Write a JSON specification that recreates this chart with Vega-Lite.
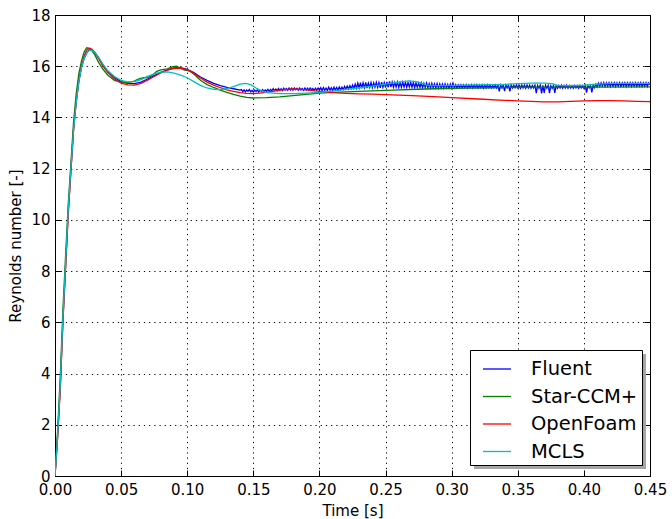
{
"$schema": "https://vega.github.io/schema/vega-lite/v6.json",
"width": 595, "height": 461,
"autosize": {"type": "none"},
"padding": {"left": 55, "top": 15, "right": 22, "bottom": 43},
"background": "white",
"config": {
  "font": "DejaVu Sans",
  "view": {"stroke": "black", "strokeWidth": 1},
  "axis": {"labelFont": "DejaVu Sans", "titleFont": "DejaVu Sans", "labelFontSize": 15, "titleFontSize": 15, "titleFontWeight": "normal", "labelColor": "black", "titleColor": "black", "domainColor": "black", "tickColor": "black", "domainWidth": 1, "tickWidth": 1}
},
"data": {"values": [
{"s":"Fluent","t":0,"v":0},{"s":"Fluent","t":0.002,"v":1.6},{"s":"Fluent","t":0.004,"v":3.5},{"s":"Fluent","t":0.006,"v":6.1},{"s":"Fluent","t":0.008,"v":8.2},{"s":"Fluent","t":0.010,"v":10.3},{"s":"Fluent","t":0.012,"v":11.9},{"s":"Fluent","t":0.014,"v":13.5},{"s":"Fluent","t":0.016,"v":14.6},{"s":"Fluent","t":0.018,"v":15.4},{"s":"Fluent","t":0.020,"v":15.95},{"s":"Fluent","t":0.022,"v":16.3},{"s":"Fluent","t":0.024,"v":16.52},{"s":"Fluent","t":0.026,"v":16.64},{"s":"Fluent","t":0.028,"v":16.64},{"s":"Fluent","t":0.030,"v":16.55},{"s":"Fluent","t":0.033,"v":16.33},{"s":"Fluent","t":0.036,"v":16.06},{"s":"Fluent","t":0.040,"v":15.78},{"s":"Fluent","t":0.045,"v":15.55},{"s":"Fluent","t":0.050,"v":15.4},{"s":"Fluent","t":0.055,"v":15.33},{"s":"Fluent","t":0.060,"v":15.32},{"s":"Fluent","t":0.065,"v":15.38},{"s":"Fluent","t":0.070,"v":15.5},{"s":"Fluent","t":0.075,"v":15.63},{"s":"Fluent","t":0.080,"v":15.76},{"s":"Fluent","t":0.085,"v":15.86},{"s":"Fluent","t":0.090,"v":15.93},{"s":"Fluent","t":0.095,"v":15.94},{"s":"Fluent","t":0.100,"v":15.88},{"s":"Fluent","t":0.105,"v":15.75},{"s":"Fluent","t":0.110,"v":15.58},{"s":"Fluent","t":0.115,"v":15.45},{"s":"Fluent","t":0.120,"v":15.33},{"s":"Fluent","t":0.125,"v":15.24},{"s":"Fluent","t":0.130,"v":15.17},{"s":"Fluent","t":0.135,"v":15.12},{"s":"Fluent","t":0.140,"v":15.07},
{"s":"Fluent","t":0.141,"v":15.09},{"s":"Fluent","t":0.142,"v":15.01},{"s":"Fluent","t":0.143,"v":15.08},{"s":"Fluent","t":0.144,"v":15.00},{"s":"Fluent","t":0.145,"v":15.07},{"s":"Fluent","t":0.146,"v":15.02},{"s":"Fluent","t":0.147,"v":15.09},{"s":"Fluent","t":0.148,"v":15.00},{"s":"Fluent","t":0.149,"v":15.06},{"s":"Fluent","t":0.150,"v":14.99},
{"s":"Fluent","t":0.151,"v":15.07},{"s":"Fluent","t":0.152,"v":15.01},{"s":"Fluent","t":0.153,"v":15.08},{"s":"Fluent","t":0.154,"v":15.00},{"s":"Fluent","t":0.155,"v":15.06},{"s":"Fluent","t":0.156,"v":15.02},{"s":"Fluent","t":0.157,"v":15.09},{"s":"Fluent","t":0.158,"v":15.01},{"s":"Fluent","t":0.159,"v":15.07},{"s":"Fluent","t":0.160,"v":15.02},
{"s":"Fluent","t":0.161,"v":15.10},{"s":"Fluent","t":0.162,"v":15.03},{"s":"Fluent","t":0.163,"v":15.09},{"s":"Fluent","t":0.164,"v":15.04},{"s":"Fluent","t":0.165,"v":15.12},{"s":"Fluent","t":0.166,"v":15.05},{"s":"Fluent","t":0.167,"v":15.11},{"s":"Fluent","t":0.168,"v":15.04},{"s":"Fluent","t":0.169,"v":15.13},{"s":"Fluent","t":0.170,"v":15.06},
{"s":"Fluent","t":0.171,"v":15.12},{"s":"Fluent","t":0.172,"v":15.05},{"s":"Fluent","t":0.173,"v":15.14},{"s":"Fluent","t":0.174,"v":15.07},{"s":"Fluent","t":0.175,"v":15.13},{"s":"Fluent","t":0.176,"v":15.06},{"s":"Fluent","t":0.177,"v":15.15},{"s":"Fluent","t":0.178,"v":15.07},{"s":"Fluent","t":0.179,"v":15.14},{"s":"Fluent","t":0.180,"v":15.06},
{"s":"Fluent","t":0.181,"v":15.15},{"s":"Fluent","t":0.182,"v":15.08},{"s":"Fluent","t":0.183,"v":15.14},{"s":"Fluent","t":0.184,"v":15.06},{"s":"Fluent","t":0.185,"v":15.15},{"s":"Fluent","t":0.186,"v":15.07},{"s":"Fluent","t":0.187,"v":15.13},{"s":"Fluent","t":0.188,"v":15.06},{"s":"Fluent","t":0.189,"v":15.15},{"s":"Fluent","t":0.190,"v":15.07},
{"s":"Fluent","t":0.191,"v":15.14},{"s":"Fluent","t":0.192,"v":15.06},{"s":"Fluent","t":0.193,"v":15.15},{"s":"Fluent","t":0.194,"v":15.08},{"s":"Fluent","t":0.195,"v":15.13},{"s":"Fluent","t":0.196,"v":15.06},{"s":"Fluent","t":0.197,"v":15.14},{"s":"Fluent","t":0.198,"v":15.07},{"s":"Fluent","t":0.199,"v":15.15},{"s":"Fluent","t":0.200,"v":15.06},
{"s":"Fluent","t":0.201,"v":15.16},{"s":"Fluent","t":0.202,"v":15.05},{"s":"Fluent","t":0.203,"v":15.17},{"s":"Fluent","t":0.204,"v":15.06},{"s":"Fluent","t":0.205,"v":15.15},{"s":"Fluent","t":0.206,"v":15.05},{"s":"Fluent","t":0.207,"v":15.18},{"s":"Fluent","t":0.208,"v":15.06},{"s":"Fluent","t":0.209,"v":15.16},{"s":"Fluent","t":0.210,"v":15.05},
{"s":"Fluent","t":0.211,"v":15.18},{"s":"Fluent","t":0.212,"v":15.07},{"s":"Fluent","t":0.213,"v":15.17},{"s":"Fluent","t":0.214,"v":15.06},{"s":"Fluent","t":0.215,"v":15.19},{"s":"Fluent","t":0.216,"v":15.08},{"s":"Fluent","t":0.217,"v":15.18},{"s":"Fluent","t":0.218,"v":15.09},{"s":"Fluent","t":0.219,"v":15.21},{"s":"Fluent","t":0.220,"v":15.10},
{"s":"Fluent","t":0.221,"v":15.22},{"s":"Fluent","t":0.222,"v":15.11},{"s":"Fluent","t":0.223,"v":15.24},{"s":"Fluent","t":0.224,"v":15.12},{"s":"Fluent","t":0.225,"v":15.26},{"s":"Fluent","t":0.226,"v":15.13},{"s":"Fluent","t":0.227,"v":15.30},{"s":"Fluent","t":0.228,"v":15.14},{"s":"Fluent","t":0.229,"v":15.34},{"s":"Fluent","t":0.230,"v":15.15},
{"s":"Fluent","t":0.231,"v":15.36},{"s":"Fluent","t":0.232,"v":15.14},{"s":"Fluent","t":0.233,"v":15.35},{"s":"Fluent","t":0.234,"v":15.16},{"s":"Fluent","t":0.235,"v":15.37},{"s":"Fluent","t":0.236,"v":15.15},{"s":"Fluent","t":0.237,"v":15.34},{"s":"Fluent","t":0.238,"v":15.17},{"s":"Fluent","t":0.239,"v":15.36},{"s":"Fluent","t":0.240,"v":15.16},
{"s":"Fluent","t":0.241,"v":15.35},{"s":"Fluent","t":0.242,"v":15.18},{"s":"Fluent","t":0.243,"v":15.37},{"s":"Fluent","t":0.244,"v":15.17},{"s":"Fluent","t":0.245,"v":15.36},{"s":"Fluent","t":0.246,"v":15.16},{"s":"Fluent","t":0.247,"v":15.38},{"s":"Fluent","t":0.248,"v":15.18},{"s":"Fluent","t":0.249,"v":15.36},{"s":"Fluent","t":0.250,"v":15.17},
{"s":"Fluent","t":0.251,"v":15.39},{"s":"Fluent","t":0.252,"v":15.18},{"s":"Fluent","t":0.253,"v":15.41},{"s":"Fluent","t":0.254,"v":15.19},{"s":"Fluent","t":0.255,"v":15.38},{"s":"Fluent","t":0.256,"v":15.18},{"s":"Fluent","t":0.257,"v":15.37},{"s":"Fluent","t":0.258,"v":15.19},{"s":"Fluent","t":0.259,"v":15.38},{"s":"Fluent","t":0.260,"v":15.17},
{"s":"Fluent","t":0.261,"v":15.36},{"s":"Fluent","t":0.262,"v":15.18},{"s":"Fluent","t":0.263,"v":15.38},{"s":"Fluent","t":0.264,"v":15.19},{"s":"Fluent","t":0.265,"v":15.37},{"s":"Fluent","t":0.266,"v":15.18},{"s":"Fluent","t":0.267,"v":15.36},{"s":"Fluent","t":0.268,"v":15.19},{"s":"Fluent","t":0.269,"v":15.37},{"s":"Fluent","t":0.270,"v":15.18},
{"s":"Fluent","t":0.271,"v":15.36},{"s":"Fluent","t":0.272,"v":15.17},{"s":"Fluent","t":0.273,"v":15.35},{"s":"Fluent","t":0.274,"v":15.18},{"s":"Fluent","t":0.275,"v":15.34},{"s":"Fluent","t":0.276,"v":15.17},{"s":"Fluent","t":0.277,"v":15.35},{"s":"Fluent","t":0.278,"v":15.16},{"s":"Fluent","t":0.279,"v":15.33},{"s":"Fluent","t":0.280,"v":15.17},
{"s":"Fluent","t":0.281,"v":15.34},{"s":"Fluent","t":0.282,"v":15.16},{"s":"Fluent","t":0.283,"v":15.32},{"s":"Fluent","t":0.284,"v":15.15},{"s":"Fluent","t":0.285,"v":15.33},{"s":"Fluent","t":0.286,"v":15.16},{"s":"Fluent","t":0.287,"v":15.31},{"s":"Fluent","t":0.288,"v":15.15},{"s":"Fluent","t":0.289,"v":15.32},{"s":"Fluent","t":0.290,"v":15.14},
{"s":"Fluent","t":0.291,"v":15.31},{"s":"Fluent","t":0.292,"v":15.15},{"s":"Fluent","t":0.293,"v":15.30},{"s":"Fluent","t":0.294,"v":15.14},{"s":"Fluent","t":0.295,"v":15.31},{"s":"Fluent","t":0.296,"v":15.15},{"s":"Fluent","t":0.297,"v":15.29},{"s":"Fluent","t":0.298,"v":15.14},{"s":"Fluent","t":0.299,"v":15.30},{"s":"Fluent","t":0.300,"v":15.15},
{"s":"Fluent","t":0.301,"v":15.34},{"s":"Fluent","t":0.302,"v":15.16},{"s":"Fluent","t":0.303,"v":15.28},{"s":"Fluent","t":0.304,"v":15.15},{"s":"Fluent","t":0.305,"v":15.27},{"s":"Fluent","t":0.306,"v":15.16},{"s":"Fluent","t":0.307,"v":15.28},{"s":"Fluent","t":0.308,"v":15.15},{"s":"Fluent","t":0.309,"v":15.27},{"s":"Fluent","t":0.310,"v":15.16},
{"s":"Fluent","t":0.311,"v":15.28},{"s":"Fluent","t":0.312,"v":15.15},{"s":"Fluent","t":0.313,"v":15.27},{"s":"Fluent","t":0.314,"v":15.16},{"s":"Fluent","t":0.315,"v":15.28},{"s":"Fluent","t":0.316,"v":15.15},{"s":"Fluent","t":0.317,"v":15.27},{"s":"Fluent","t":0.318,"v":15.16},{"s":"Fluent","t":0.319,"v":15.28},{"s":"Fluent","t":0.320,"v":15.15},
{"s":"Fluent","t":0.321,"v":15.27},{"s":"Fluent","t":0.322,"v":15.16},{"s":"Fluent","t":0.323,"v":15.28},{"s":"Fluent","t":0.324,"v":15.14},{"s":"Fluent","t":0.325,"v":15.27},{"s":"Fluent","t":0.326,"v":15.15},{"s":"Fluent","t":0.327,"v":15.28},{"s":"Fluent","t":0.328,"v":15.16},{"s":"Fluent","t":0.329,"v":15.27},{"s":"Fluent","t":0.330,"v":15.15},
{"s":"Fluent","t":0.331,"v":15.26},{"s":"Fluent","t":0.332,"v":15.16},{"s":"Fluent","t":0.333,"v":15.27},{"s":"Fluent","t":0.334,"v":15.15},{"s":"Fluent","t":0.335,"v":15.26},{"s":"Fluent","t":0.336,"v":15.02},{"s":"Fluent","t":0.337,"v":15.27},{"s":"Fluent","t":0.338,"v":15.15},{"s":"Fluent","t":0.339,"v":15.26},{"s":"Fluent","t":0.340,"v":15.03},
{"s":"Fluent","t":0.341,"v":15.27},{"s":"Fluent","t":0.342,"v":15.16},{"s":"Fluent","t":0.343,"v":15.26},{"s":"Fluent","t":0.344,"v":15.02},{"s":"Fluent","t":0.345,"v":15.27},{"s":"Fluent","t":0.346,"v":15.15},{"s":"Fluent","t":0.347,"v":15.26},{"s":"Fluent","t":0.348,"v":15.16},{"s":"Fluent","t":0.349,"v":15.27},{"s":"Fluent","t":0.350,"v":15.15},
{"s":"Fluent","t":0.351,"v":15.26},{"s":"Fluent","t":0.352,"v":15.14},{"s":"Fluent","t":0.353,"v":15.27},{"s":"Fluent","t":0.354,"v":15.15},{"s":"Fluent","t":0.355,"v":15.26},{"s":"Fluent","t":0.356,"v":15.14},{"s":"Fluent","t":0.357,"v":15.27},{"s":"Fluent","t":0.358,"v":15.15},{"s":"Fluent","t":0.359,"v":15.26},{"s":"Fluent","t":0.360,"v":15.14},
{"s":"Fluent","t":0.361,"v":15.25},{"s":"Fluent","t":0.362,"v":15.15},{"s":"Fluent","t":0.363,"v":15.26},{"s":"Fluent","t":0.364,"v":14.95},{"s":"Fluent","t":0.365,"v":15.25},{"s":"Fluent","t":0.366,"v":15.14},{"s":"Fluent","t":0.367,"v":15.26},{"s":"Fluent","t":0.368,"v":14.94},{"s":"Fluent","t":0.369,"v":15.25},{"s":"Fluent","t":0.370,"v":14.96},
{"s":"Fluent","t":0.371,"v":15.26},{"s":"Fluent","t":0.372,"v":15.14},{"s":"Fluent","t":0.373,"v":15.25},{"s":"Fluent","t":0.374,"v":14.95},{"s":"Fluent","t":0.375,"v":15.24},{"s":"Fluent","t":0.376,"v":15.14},{"s":"Fluent","t":0.377,"v":15.25},{"s":"Fluent","t":0.378,"v":14.96},{"s":"Fluent","t":0.379,"v":15.24},{"s":"Fluent","t":0.380,"v":15.14},
{"s":"Fluent","t":0.381,"v":15.25},{"s":"Fluent","t":0.382,"v":15.15},{"s":"Fluent","t":0.383,"v":15.26},{"s":"Fluent","t":0.384,"v":15.14},{"s":"Fluent","t":0.385,"v":15.25},{"s":"Fluent","t":0.386,"v":15.15},{"s":"Fluent","t":0.387,"v":15.26},{"s":"Fluent","t":0.388,"v":15.14},{"s":"Fluent","t":0.389,"v":15.25},{"s":"Fluent","t":0.390,"v":15.15},
{"s":"Fluent","t":0.391,"v":15.24},{"s":"Fluent","t":0.392,"v":15.14},{"s":"Fluent","t":0.393,"v":15.25},{"s":"Fluent","t":0.394,"v":15.15},{"s":"Fluent","t":0.395,"v":15.24},{"s":"Fluent","t":0.396,"v":15.14},{"s":"Fluent","t":0.397,"v":15.25},{"s":"Fluent","t":0.398,"v":15.15},{"s":"Fluent","t":0.399,"v":15.24},{"s":"Fluent","t":0.400,"v":15.14},
{"s":"Fluent","t":0.401,"v":15.25},{"s":"Fluent","t":0.402,"v":14.97},{"s":"Fluent","t":0.403,"v":15.24},{"s":"Fluent","t":0.404,"v":15.15},{"s":"Fluent","t":0.405,"v":15.25},{"s":"Fluent","t":0.406,"v":14.98},{"s":"Fluent","t":0.407,"v":15.26},{"s":"Fluent","t":0.408,"v":15.16},{"s":"Fluent","t":0.409,"v":15.30},{"s":"Fluent","t":0.410,"v":15.19},
{"s":"Fluent","t":0.411,"v":15.34},{"s":"Fluent","t":0.412,"v":15.21},{"s":"Fluent","t":0.413,"v":15.35},{"s":"Fluent","t":0.414,"v":15.22},{"s":"Fluent","t":0.415,"v":15.36},{"s":"Fluent","t":0.416,"v":15.21},{"s":"Fluent","t":0.417,"v":15.35},{"s":"Fluent","t":0.418,"v":15.22},{"s":"Fluent","t":0.419,"v":15.36},{"s":"Fluent","t":0.420,"v":15.21},
{"s":"Fluent","t":0.421,"v":15.35},{"s":"Fluent","t":0.422,"v":15.22},{"s":"Fluent","t":0.423,"v":15.36},{"s":"Fluent","t":0.424,"v":15.21},{"s":"Fluent","t":0.425,"v":15.35},{"s":"Fluent","t":0.426,"v":15.22},{"s":"Fluent","t":0.427,"v":15.36},{"s":"Fluent","t":0.428,"v":15.21},{"s":"Fluent","t":0.429,"v":15.35},{"s":"Fluent","t":0.430,"v":15.22},
{"s":"Fluent","t":0.431,"v":15.36},{"s":"Fluent","t":0.432,"v":15.21},{"s":"Fluent","t":0.433,"v":15.35},{"s":"Fluent","t":0.434,"v":15.22},{"s":"Fluent","t":0.435,"v":15.36},{"s":"Fluent","t":0.436,"v":15.21},{"s":"Fluent","t":0.437,"v":15.35},{"s":"Fluent","t":0.438,"v":15.22},{"s":"Fluent","t":0.439,"v":15.36},{"s":"Fluent","t":0.440,"v":15.21},
{"s":"Fluent","t":0.441,"v":15.35},{"s":"Fluent","t":0.442,"v":15.22},{"s":"Fluent","t":0.443,"v":15.36},{"s":"Fluent","t":0.444,"v":15.21},{"s":"Fluent","t":0.445,"v":15.35},{"s":"Fluent","t":0.446,"v":15.22},{"s":"Fluent","t":0.447,"v":15.36},{"s":"Fluent","t":0.448,"v":15.21},{"s":"Fluent","t":0.449,"v":15.35},{"s":"Fluent","t":0.450,"v":15.28},
{"s":"Star-CCM+","t":0,"v":0},{"s":"Star-CCM+","t":0.002,"v":1.8},{"s":"Star-CCM+","t":0.004,"v":3.9},{"s":"Star-CCM+","t":0.006,"v":6.5},{"s":"Star-CCM+","t":0.008,"v":8.6},{"s":"Star-CCM+","t":0.010,"v":10.6},{"s":"Star-CCM+","t":0.012,"v":12.2},{"s":"Star-CCM+","t":0.014,"v":13.8},{"s":"Star-CCM+","t":0.016,"v":14.9},{"s":"Star-CCM+","t":0.018,"v":15.7},{"s":"Star-CCM+","t":0.020,"v":16.2},{"s":"Star-CCM+","t":0.022,"v":16.55},{"s":"Star-CCM+","t":0.024,"v":16.72},{"s":"Star-CCM+","t":0.026,"v":16.7},{"s":"Star-CCM+","t":0.028,"v":16.6},{"s":"Star-CCM+","t":0.030,"v":16.45},{"s":"Star-CCM+","t":0.033,"v":16.15},{"s":"Star-CCM+","t":0.036,"v":15.9},{"s":"Star-CCM+","t":0.040,"v":15.65},{"s":"Star-CCM+","t":0.045,"v":15.45},{"s":"Star-CCM+","t":0.050,"v":15.38},{"s":"Star-CCM+","t":0.055,"v":15.36},{"s":"Star-CCM+","t":0.060,"v":15.42},{"s":"Star-CCM+","t":0.063,"v":15.5},{"s":"Star-CCM+","t":0.067,"v":15.55},{"s":"Star-CCM+","t":0.070,"v":15.56},{"s":"Star-CCM+","t":0.073,"v":15.62},{"s":"Star-CCM+","t":0.077,"v":15.8},{"s":"Star-CCM+","t":0.080,"v":15.86},{"s":"Star-CCM+","t":0.085,"v":15.9},{"s":"Star-CCM+","t":0.089,"v":15.98},{"s":"Star-CCM+","t":0.092,"v":16.0},{"s":"Star-CCM+","t":0.095,"v":15.92},{"s":"Star-CCM+","t":0.098,"v":15.85},{"s":"Star-CCM+","t":0.102,"v":15.82},{"s":"Star-CCM+","t":0.106,"v":15.65},{"s":"Star-CCM+","t":0.110,"v":15.45},{"s":"Star-CCM+","t":0.115,"v":15.28},{"s":"Star-CCM+","t":0.120,"v":15.17},{"s":"Star-CCM+","t":0.125,"v":15.07},{"s":"Star-CCM+","t":0.130,"v":14.98},{"s":"Star-CCM+","t":0.135,"v":14.9},{"s":"Star-CCM+","t":0.140,"v":14.83},{"s":"Star-CCM+","t":0.145,"v":14.78},{"s":"Star-CCM+","t":0.150,"v":14.76},{"s":"Star-CCM+","t":0.160,"v":14.77},{"s":"Star-CCM+","t":0.170,"v":14.8},{"s":"Star-CCM+","t":0.180,"v":14.85},{"s":"Star-CCM+","t":0.190,"v":14.9},{"s":"Star-CCM+","t":0.200,"v":14.95},{"s":"Star-CCM+","t":0.220,"v":15.0},{"s":"Star-CCM+","t":0.250,"v":15.06},{"s":"Star-CCM+","t":0.280,"v":15.11},{"s":"Star-CCM+","t":0.300,"v":15.14},{"s":"Star-CCM+","t":0.330,"v":15.16},{"s":"Star-CCM+","t":0.350,"v":15.18},{"s":"Star-CCM+","t":0.400,"v":15.18},{"s":"Star-CCM+","t":0.450,"v":15.19},
{"s":"OpenFoam","t":0,"v":0},{"s":"OpenFoam","t":0.002,"v":1.5},{"s":"OpenFoam","t":0.004,"v":3.4},{"s":"OpenFoam","t":0.006,"v":6.0},{"s":"OpenFoam","t":0.008,"v":8.1},{"s":"OpenFoam","t":0.010,"v":10.2},{"s":"OpenFoam","t":0.012,"v":11.9},{"s":"OpenFoam","t":0.014,"v":13.5},{"s":"OpenFoam","t":0.016,"v":14.6},{"s":"OpenFoam","t":0.018,"v":15.45},{"s":"OpenFoam","t":0.020,"v":16.0},{"s":"OpenFoam","t":0.022,"v":16.4},{"s":"OpenFoam","t":0.024,"v":16.63},{"s":"OpenFoam","t":0.026,"v":16.7},{"s":"OpenFoam","t":0.028,"v":16.66},{"s":"OpenFoam","t":0.030,"v":16.54},{"s":"OpenFoam","t":0.033,"v":16.3},{"s":"OpenFoam","t":0.036,"v":16.02},{"s":"OpenFoam","t":0.040,"v":15.75},{"s":"OpenFoam","t":0.045,"v":15.5},{"s":"OpenFoam","t":0.050,"v":15.34},{"s":"OpenFoam","t":0.055,"v":15.27},{"s":"OpenFoam","t":0.060,"v":15.26},{"s":"OpenFoam","t":0.065,"v":15.33},{"s":"OpenFoam","t":0.070,"v":15.46},{"s":"OpenFoam","t":0.075,"v":15.6},{"s":"OpenFoam","t":0.080,"v":15.74},{"s":"OpenFoam","t":0.085,"v":15.85},{"s":"OpenFoam","t":0.090,"v":15.92},{"s":"OpenFoam","t":0.095,"v":15.93},{"s":"OpenFoam","t":0.100,"v":15.86},{"s":"OpenFoam","t":0.105,"v":15.72},{"s":"OpenFoam","t":0.110,"v":15.54},{"s":"OpenFoam","t":0.115,"v":15.38},{"s":"OpenFoam","t":0.120,"v":15.26},{"s":"OpenFoam","t":0.125,"v":15.16},{"s":"OpenFoam","t":0.130,"v":15.08},{"s":"OpenFoam","t":0.135,"v":15.02},{"s":"OpenFoam","t":0.140,"v":14.97},{"s":"OpenFoam","t":0.145,"v":14.94},{"s":"OpenFoam","t":0.150,"v":14.93},{"s":"OpenFoam","t":0.160,"v":14.98},{"s":"OpenFoam","t":0.170,"v":15.07},{"s":"OpenFoam","t":0.180,"v":15.11},{"s":"OpenFoam","t":0.190,"v":15.08},{"s":"OpenFoam","t":0.200,"v":15.02},{"s":"OpenFoam","t":0.210,"v":14.97},{"s":"OpenFoam","t":0.220,"v":14.94},{"s":"OpenFoam","t":0.230,"v":14.92},{"s":"OpenFoam","t":0.240,"v":14.91},{"s":"OpenFoam","t":0.250,"v":14.89},{"s":"OpenFoam","t":0.270,"v":14.85},{"s":"OpenFoam","t":0.290,"v":14.8},{"s":"OpenFoam","t":0.300,"v":14.77},{"s":"OpenFoam","t":0.320,"v":14.72},{"s":"OpenFoam","t":0.340,"v":14.67},{"s":"OpenFoam","t":0.350,"v":14.65},{"s":"OpenFoam","t":0.360,"v":14.63},{"s":"OpenFoam","t":0.370,"v":14.61},{"s":"OpenFoam","t":0.380,"v":14.61},{"s":"OpenFoam","t":0.390,"v":14.63},{"s":"OpenFoam","t":0.400,"v":14.65},{"s":"OpenFoam","t":0.410,"v":14.66},{"s":"OpenFoam","t":0.420,"v":14.66},{"s":"OpenFoam","t":0.430,"v":14.65},{"s":"OpenFoam","t":0.440,"v":14.63},{"s":"OpenFoam","t":0.450,"v":14.62},
{"s":"MCLS","t":0,"v":0},{"s":"MCLS","t":0.002,"v":1.6},{"s":"MCLS","t":0.004,"v":3.6},{"s":"MCLS","t":0.006,"v":6.2},{"s":"MCLS","t":0.008,"v":8.3},{"s":"MCLS","t":0.010,"v":10.4},{"s":"MCLS","t":0.012,"v":12.0},{"s":"MCLS","t":0.014,"v":13.5},{"s":"MCLS","t":0.016,"v":14.6},{"s":"MCLS","t":0.018,"v":15.4},{"s":"MCLS","t":0.020,"v":15.95},{"s":"MCLS","t":0.022,"v":16.3},{"s":"MCLS","t":0.024,"v":16.52},{"s":"MCLS","t":0.026,"v":16.62},{"s":"MCLS","t":0.028,"v":16.62},{"s":"MCLS","t":0.030,"v":16.55},{"s":"MCLS","t":0.033,"v":16.35},{"s":"MCLS","t":0.036,"v":16.1},{"s":"MCLS","t":0.040,"v":15.82},{"s":"MCLS","t":0.045,"v":15.6},{"s":"MCLS","t":0.050,"v":15.45},{"s":"MCLS","t":0.055,"v":15.39},{"s":"MCLS","t":0.060,"v":15.4},{"s":"MCLS","t":0.065,"v":15.48},{"s":"MCLS","t":0.070,"v":15.6},{"s":"MCLS","t":0.075,"v":15.7},{"s":"MCLS","t":0.080,"v":15.77},{"s":"MCLS","t":0.085,"v":15.78},{"s":"MCLS","t":0.090,"v":15.73},{"s":"MCLS","t":0.095,"v":15.65},{"s":"MCLS","t":0.100,"v":15.55},{"s":"MCLS","t":0.105,"v":15.4},{"s":"MCLS","t":0.110,"v":15.25},{"s":"MCLS","t":0.115,"v":15.15},{"s":"MCLS","t":0.120,"v":15.1},{"s":"MCLS","t":0.125,"v":15.09},{"s":"MCLS","t":0.130,"v":15.13},{"s":"MCLS","t":0.135,"v":15.2},{"s":"MCLS","t":0.140,"v":15.3},{"s":"MCLS","t":0.144,"v":15.33},{"s":"MCLS","t":0.148,"v":15.28},{"s":"MCLS","t":0.152,"v":15.15},{"s":"MCLS","t":0.156,"v":15.05},{"s":"MCLS","t":0.160,"v":14.97},{"s":"MCLS","t":0.170,"v":14.93},{"s":"MCLS","t":0.180,"v":14.93},{"s":"MCLS","t":0.190,"v":14.95},{"s":"MCLS","t":0.200,"v":14.98},{"s":"MCLS","t":0.210,"v":15.03},{"s":"MCLS","t":0.220,"v":15.1},{"s":"MCLS","t":0.230,"v":15.16},{"s":"MCLS","t":0.240,"v":15.22},{"s":"MCLS","t":0.250,"v":15.3},{"s":"MCLS","t":0.260,"v":15.38},{"s":"MCLS","t":0.268,"v":15.43},{"s":"MCLS","t":0.275,"v":15.38},{"s":"MCLS","t":0.281,"v":15.26},{"s":"MCLS","t":0.290,"v":15.24},{"s":"MCLS","t":0.300,"v":15.25},{"s":"MCLS","t":0.320,"v":15.27},{"s":"MCLS","t":0.340,"v":15.29},{"s":"MCLS","t":0.350,"v":15.32},{"s":"MCLS","t":0.360,"v":15.34},{"s":"MCLS","t":0.370,"v":15.34},{"s":"MCLS","t":0.376,"v":15.32},{"s":"MCLS","t":0.380,"v":15.25},{"s":"MCLS","t":0.390,"v":15.24},{"s":"MCLS","t":0.400,"v":15.26},{"s":"MCLS","t":0.410,"v":15.3},{"s":"MCLS","t":0.420,"v":15.33},{"s":"MCLS","t":0.430,"v":15.33},{"s":"MCLS","t":0.450,"v":15.33}
]},
"layer": [
  {
    "mark": {"type": "line", "strokeWidth": 1.3, "clip": true},
    "encoding": {
      "x": {"field": "t", "type": "quantitative", "scale": {"domain": [0, 0.45], "nice": false, "zero": false},
        "axis": {"orient": "bottom", "values": [0, 0.05, 0.1, 0.15, 0.2, 0.25, 0.3, 0.35, 0.4, 0.45], "format": ".2f", "title": "Time [s]", "grid": true, "gridColor": "black", "gridOpacity": 1, "gridWidth": 1, "gridDash": [1.2, 4], "tickSize": -6, "labelPadding": 12, "titlePadding": 6, "labelFlush": false, "labelOverlap": false}},
      "y": {"field": "v", "type": "quantitative", "scale": {"domain": [0, 18], "nice": false},
        "axis": {"orient": "left", "values": [0, 2, 4, 6, 8, 10, 12, 14, 16, 18], "format": "d", "title": "Reynolds number [-]", "grid": true, "gridColor": "black", "gridOpacity": 1, "gridWidth": 1, "gridDash": [1.2, 4], "tickSize": -6, "labelPadding": 11, "titlePadding": 7, "labelFlush": false, "labelOverlap": false}},
      "stroke": {"field": "s", "type": "nominal",
        "scale": {"domain": ["Fluent", "Star-CCM+", "OpenFoam", "MCLS"], "range": ["#0000ff", "#008000", "#ff0000", "#00bfbf"]},
        "legend": {"orient": "none", "legendX": 415, "legendY": 335, "title": null, "symbolType": "stroke", "symbolSize": 784, "symbolStrokeWidth": 1.3, "symbolOffset": 8, "labelFontSize": 19.5, "labelFont": "DejaVu Sans", "labelColor": "black", "labelOffset": 19, "rowPadding": 2.5, "padding": 4, "strokeColor": "black", "fillColor": "white", "cornerRadius": 0, "zindex": 1, "labelLimit": 400}}
    }
  },
  {
    "mark": {"type": "point", "opacity": 0, "filled": true},
    "encoding": {
      "x": {"field": "t", "type": "quantitative",
        "axis": {"orient": "top", "values": [0, 0.05, 0.1, 0.15, 0.2, 0.25, 0.3, 0.35, 0.4, 0.45], "labels": false, "title": null, "grid": false, "tickSize": -6}},
      "y": {"field": "v", "type": "quantitative",
        "axis": {"orient": "right", "values": [0, 2, 4, 6, 8, 10, 12, 14, 16, 18], "labels": false, "title": null, "grid": false, "tickSize": -6}},
      "fill": {"field": "s", "type": "nominal",
        "scale": {"domain": ["MCLS", "OpenFoam", "Star-CCM+", "Fluent"], "range": ["#999999", "#999999", "#999999", "#999999"]},
        "legend": {"orient": "none", "legendX": 419, "legendY": 339, "title": null, "symbolType": "stroke", "symbolSize": 784, "symbolOpacity": 0, "symbolStrokeWidth": 1.3, "symbolOffset": 8, "labelFontSize": 19.5, "labelFont": "DejaVu Sans", "labelColor": "rgba(0,0,0,0)", "labelOffset": 19, "rowPadding": 2.5, "padding": 4, "strokeColor": null, "fillColor": "#a6a6a6", "cornerRadius": 0, "zindex": 0, "labelLimit": 400}}
    }
  }
],
"resolve": {"axis": {"x": "independent", "y": "independent"}}
}
